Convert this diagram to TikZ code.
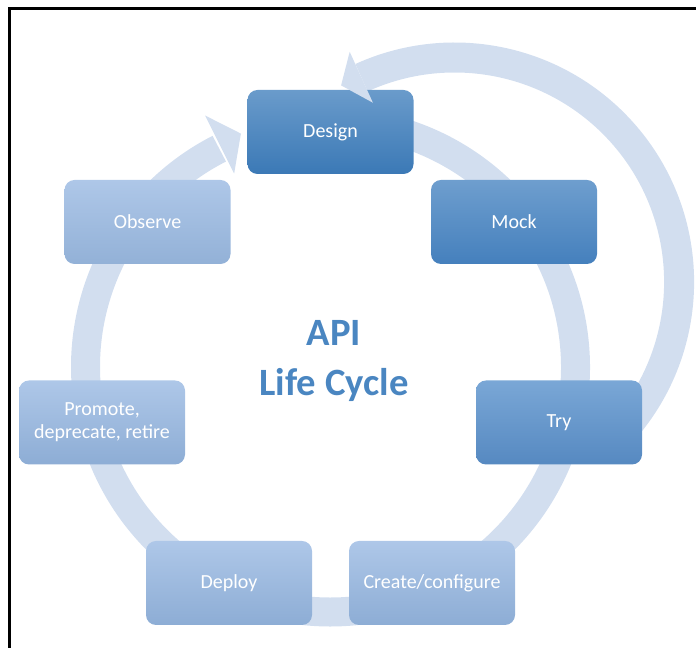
\documentclass[tikz,border=0pt]{standalone}
\usepackage{fontspec}
\setmainfont{Carlito}
\definecolor{ringblue}{HTML}{D2DEEF}
\definecolor{titleblue}{HTML}{4A86C1}
\definecolor{darktop}{HTML}{6A9BCB}
\definecolor{darkbot}{HTML}{3B79B6}
\definecolor{midtop}{HTML}{6E9ECE}
\definecolor{midbot}{HTML}{4580BD}
\definecolor{tritop}{HTML}{7AA7D6}
\definecolor{tribot}{HTML}{5689C1}
\definecolor{palet}{HTML}{AEC7E8}
\definecolor{paleb}{HTML}{8DADD5}
\begin{document}
\begin{tikzpicture}[x=0.75pt, y=0.75pt,
    stage/.style={rounded corners=7.5pt, minimum width=124.5pt, minimum height=63pt,
        text=white, align=center, font=\fontsize{15}{17}\selectfont, inner sep=2pt},
    band/.style={ringblue, line width=21.75pt},
    tip/.style={fill=ringblue}]
    \useasboundingbox (0,0) rectangle (696,648);
    % The frame
    \draw[line width=2pt] (9.5,0) -- (9.5,639.5) -- (696,639.5);

    \coordinate (ringc) at (330.5,281);
    \coordinate (loopc) at (454.6,366);

    % The cycle ring
    \draw[band] (ringc) ++(95:245) arc[start angle=95, end angle=-243, radius=245];
    \fill[tip, shift={(ringc)}] (116.5:216) -- (111:250) -- (116.5:281) -- cycle;
    % The outer loop
    \draw[band, line width=22.5pt] (loopc) ++(-45:224.5) arc[start angle=-45, end angle=114.5, radius=224.5];

    % The stages
    \node[stage, top color=darktop, bottom color=darkbot] (design) at (330.5,516) {Design};
    \node[stage, top color=midtop, bottom color=midbot] (mock) at (514,426) {Mock};
    \node[stage, top color=tritop, bottom color=tribot] (try) at (559,225.5) {Try};
    \node[stage, top color=palet, bottom color=paleb] (create) at (432,65) {Create/configure};
    \node[stage, top color=palet, bottom color=paleb] (deploy) at (229,65) {Deploy};
    \node[stage, top color=palet, bottom color=paleb] (promote) at (102,225.5) {Promote,\\deprecate, retire};
    \node[stage, top color=palet, bottom color=paleb!95!white] (observe) at (147.5,426) {Observe};

    \fill[tip, shift={(loopc)}] (114.5:197) -- (120:227) -- (114.5:253) -- cycle;

    % Title
    \node[text=titleblue, align=center, font=\fontsize{29}{37}\selectfont\bfseries] (title) at (334,287) {API\\Life Cycle};
\end{tikzpicture}
\end{document}
